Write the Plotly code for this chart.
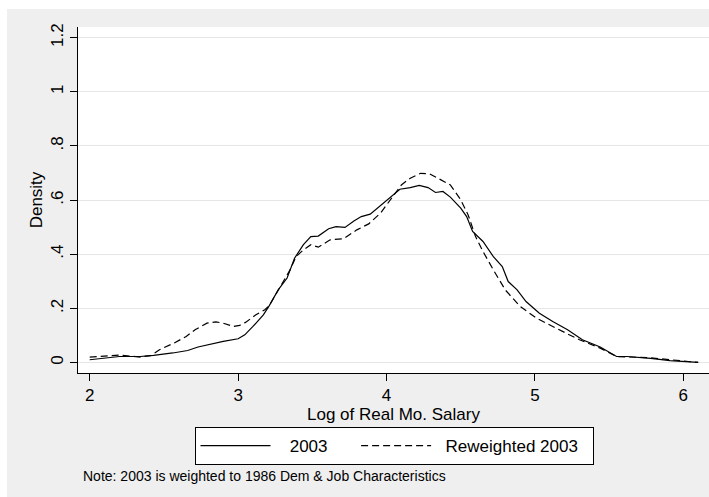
import plotly.graph_objects as go

# Data
x_2003 = [2.00, 2.20, 2.34, 2.43, 2.56, 2.66, 2.73, 2.81, 2.90, 3.00, 3.045, 3.10, 3.17, 3.21,
          3.27, 3.33, 3.38, 3.44, 3.49, 3.54, 3.61, 3.66, 3.72, 3.78, 3.83, 3.89, 3.96, 4.03,
          4.09, 4.16, 4.22, 4.28, 4.33, 4.38, 4.43, 4.50, 4.54, 4.58, 4.65, 4.72, 4.78, 4.82,
          4.88, 4.94, 5.03, 5.12, 5.22, 5.32, 5.44, 5.55, 5.62, 5.78, 5.91, 6.10]
y_2003 = [0.010, 0.022, 0.022, 0.026, 0.035, 0.044, 0.057, 0.068, 0.078, 0.0875, 0.102, 0.133,
          0.176, 0.210, 0.268, 0.312, 0.385, 0.435, 0.465, 0.467, 0.494, 0.502, 0.499, 0.523,
          0.539, 0.548, 0.580, 0.610, 0.640, 0.646, 0.654, 0.646, 0.628, 0.632, 0.611, 0.570,
          0.539, 0.484, 0.447, 0.391, 0.354, 0.299, 0.268, 0.225, 0.182, 0.151, 0.121, 0.084,
          0.057, 0.022, 0.022, 0.015, 0.007, 0.000]

x_rew = [2.00, 2.20, 2.34, 2.41, 2.47, 2.57, 2.65, 2.71, 2.79, 2.85, 2.90, 2.97, 3.01, 3.05,
         3.12, 3.18, 3.21, 3.28, 3.35, 3.39, 3.44, 3.49, 3.54, 3.62, 3.71, 3.80, 3.88, 3.96,
         4.02, 4.10, 4.16, 4.23, 4.29, 4.37, 4.43, 4.50, 4.55, 4.60, 4.65, 4.72, 4.80, 4.90,
         5.01, 5.14, 5.30, 5.44, 5.55, 5.78, 5.93, 6.10]
y_rew = [0.020, 0.027, 0.020, 0.025, 0.047, 0.072, 0.096, 0.121, 0.145, 0.150, 0.145, 0.133,
         0.137, 0.148, 0.176, 0.195, 0.210, 0.275, 0.342, 0.391, 0.416, 0.435, 0.426, 0.453,
         0.457, 0.490, 0.512, 0.552, 0.595, 0.656, 0.681, 0.699, 0.697, 0.675, 0.656, 0.601,
         0.545, 0.465, 0.410, 0.342, 0.268, 0.207, 0.164, 0.127, 0.084, 0.053, 0.022, 0.017,
         0.009, 0.000]

series_names = ["2003", "Reweighted 2003"]
x_ticks = [2, 3, 4, 5, 6]
y_ticks = [0, 0.2, 0.4, 0.6, 0.8, 1.0, 1.2]
y_ticktext = ["0", ".2", ".4", ".6", ".8", "1", "1.2"]

W, H = 709, 497
ML, MR, MT, MB = 78, 0, 27, 124
PW, PH = W - ML - MR, H - MT - MB
GRAY = "#efefef"
FONT = "Liberation Sans, Arial, sans-serif"
NB = "\u00a0"


def px2x(px):
    return (px - ML) / PW


def py2y(py):
    return (H - MB - py) / PH


fig = go.Figure()
fig.add_trace(go.Scatter(x=x_2003, y=y_2003, mode="lines",
                         name=NB * 3 + series_names[0] + NB * 5,
                         line=dict(color="black", width=1.2)))
fig.add_trace(go.Scatter(x=x_rew, y=y_rew, mode="lines",
                         name=NB * 2 + series_names[1] + NB * 2,
                         line=dict(color="black", width=1.2, dash="7px,4px")))

shapes = [
    dict(type="rect", xref="paper", yref="paper", x0=px2x(0), x1=px2x(W), y0=py2y(9), y1=py2y(0),
         fillcolor="white", line=dict(width=0), layer="below"),
    dict(type="rect", xref="paper", yref="paper", x0=px2x(0), x1=px2x(7), y0=py2y(H), y1=py2y(0),
         fillcolor="white", line=dict(width=0), layer="below"),
]

fig.update_layout(
    width=W, height=H,
    margin=dict(l=ML, r=MR, t=MT, b=MB, pad=0),
    paper_bgcolor=GRAY, plot_bgcolor="white",
    font=dict(family=FONT, size=17, color="black"),
    shapes=shapes,
    showlegend=True,
    legend=dict(orientation="h", x=0.5008, xanchor="center", y=py2y(427), yanchor="top",
                bgcolor="white", bordercolor="black", borderwidth=1,
                font=dict(size=17), itemwidth=70),
    annotations=[dict(text="Note: 2003 is weighted to 1986 Dem & Job Characteristics",
                      xref="paper", yref="paper", x=px2x(81), y=py2y(476),
                      xanchor="left", yanchor="middle", showarrow=False,
                      font=dict(size=14, family=FONT))],
    xaxis=dict(range=[1.921, 6.173], tickvals=x_ticks, ticks="outside", ticklen=7,
               tickcolor="black", showline=True, linecolor="black", linewidth=1,
               showgrid=False, zeroline=False,
               title=dict(text="Log of Real Mo. Salary", font=dict(size=17), standoff=0),
               tickfont=dict(size=17)),
    yaxis=dict(range=[-0.039, 1.2395], tickvals=y_ticks, ticktext=y_ticktext,
               tickangle=-90, ticks="outside", ticklen=7, tickcolor="black",
               showline=True, linecolor="black", linewidth=1,
               showgrid=True, gridcolor="#e6e6e6", gridwidth=1, zeroline=False,
               title=dict(text="Density", font=dict(size=17), standoff=1),
               tickfont=dict(size=17)),
)

fig.write_html("out.html")
